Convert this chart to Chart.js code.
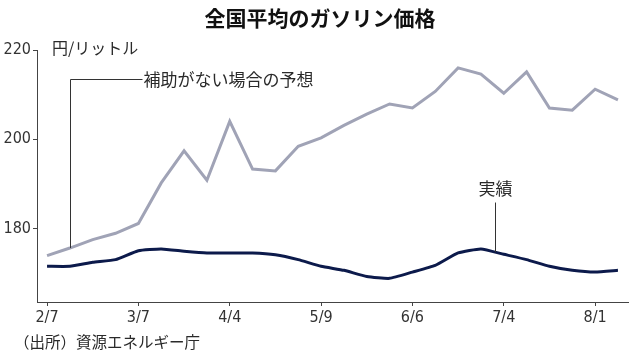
<!DOCTYPE html>
<html><head><meta charset="utf-8">
<script src="https://cdn.jsdelivr.net/npm/chart.js@4/dist/chart.umd.min.js"></script>
<style>
html,body{margin:0;padding:0;background:#fff;}
#wrap{position:relative;width:638px;height:357px;overflow:hidden;}
canvas{position:absolute;left:0;top:0;}
.t{position:absolute;white-space:nowrap;font-family:'Noto Sans CJK JP','Noto Sans',sans-serif;color:#2a2a2a;}
#title{left:0;width:640px;text-align:center;top:4px;font-size:21px;line-height:26px;font-weight:bold;color:#111;}
#unit{left:52px;top:37px;font-size:16px;line-height:20px;}
#src{left:14px;top:331px;font-size:15.5px;line-height:20px;}
</style></head>
<body><div id="wrap">
<canvas id="c" width="638" height="357"></canvas>
<div class="t" id="title">全国平均のガソリン価格</div>
<div class="t" id="unit">円/リットル</div>
<div class="t" id="src">（出所）資源エネルギー庁</div>
</div>
<script>
const categories = ['2/7','2/14','2/21','2/28','3/7','3/14','3/22','3/28','4/4','4/11','4/18','4/25','5/9','5/16','5/23','5/30','6/6','6/13','6/20','6/27','7/4','7/11','7/19','7/25','8/1','8/8'];
const forecast = [173.9,175.6,177.5,178.9,181.1,190.2,197.4,190.8,204.0,193.3,192.9,198.4,200.3,203.1,205.6,207.9,207.0,210.7,216.0,214.6,210.3,215.1,207.0,206.5,211.2,208.8];
const actual = [171.5,171.5,172.4,173.0,175.0,175.4,174.9,174.5,174.5,174.5,174.1,173.0,171.5,170.6,169.2,168.8,170.2,171.7,174.5,175.4,174.2,173.0,171.5,170.6,170.2,170.6];
const yTicks = [180,200,220];
const xTickIdx = [0,4,8,12,16,20,24];
const forecastLabel = '補助がない場合の予想';
const actualLabel = '実績';

const tickFont = {family:"'Liberation Sans Narrow','DejaVu Sans Condensed','Roboto Condensed',sans-serif", size:16};

const annot = {
  id:'annot',
  afterDatasetsDraw(chart){
    const ctx = chart.ctx, xs = chart.scales.x, ys = chart.scales.y;
    ctx.save();
    ctx.strokeStyle = '#333'; ctx.lineWidth = 1;
    const fx = Math.round(xs.getPixelForValue(1)) + 0.5;
    const fyTop = Math.round(ys.getPixelForValue(213.5)) + 0.5;
    const fyBot = ys.getPixelForValue(forecast[1]);
    ctx.beginPath();
    ctx.moveTo(fx, fyBot); ctx.lineTo(fx, fyTop); ctx.lineTo(fx + 72, fyTop);
    ctx.stroke();
    ctx.fillStyle = '#2a2a2a';
    ctx.font = "17px 'Noto Sans CJK JP', sans-serif";
    ctx.textBaseline = 'middle'; ctx.textAlign = 'left';
    ctx.fillText(forecastLabel, fx + 73, fyTop);
    const pos = 19.6;
    const i0 = Math.floor(pos), f = pos - i0;
    const ax = Math.round(xs.getPixelForValue(pos)) + 0.5;
    const ayBot = ys.getPixelForValue(actual[i0] + (actual[i0+1]-actual[i0])*f);
    const ayTop = ys.getPixelForValue(185.8);
    ctx.beginPath(); ctx.moveTo(ax, ayTop); ctx.lineTo(ax, ayBot); ctx.stroke();
    ctx.textAlign = 'center';
    ctx.fillText(actualLabel, ax, ys.getPixelForValue(189));
    ctx.restore();
  }
};

new Chart(document.getElementById('c'), {
  type:'line',
  data:{
    datasets:[
      {label:forecastLabel, data:forecast.map((v,i)=>({x:i,y:v})), borderColor:'#a0a3b6', borderWidth:3, pointRadius:0, tension:0},
      {label:actualLabel, data:actual.map((v,i)=>({x:i,y:v})), borderColor:'#0c1a4b', borderWidth:3, pointRadius:0, tension:0.15}
    ]
  },
  options:{
    responsive:false, animation:false, devicePixelRatio:1,
    layout:{padding:{top:50,right:10,bottom:0,left:0}},
    plugins:{legend:{display:false}, tooltip:{enabled:false}, title:{display:false}},
    scales:{
      x:{type:'linear', min:-0.44, max:25.44,
        afterBuildTicks(s){ s.ticks = xTickIdx.map(v=>({value:v})); },
        afterFit(s){ s.height = 55; },
        grid:{drawOnChartArea:false, drawTicks:true, tickLength:4, color:'#444'},
        border:{color:'#444', width:1},
        ticks:{font:tickFont, color:'#333', padding:2, maxRotation:0, autoSkip:false,
          callback:(v)=>categories[v]}
      },
      y:{min:163.5, max:220,
        afterBuildTicks(s){ s.ticks = yTicks.map(v=>({value:v})); },
        afterFit(s){ s.width = 37; },
        grid:{drawOnChartArea:false, drawTicks:true, tickLength:4, color:'#444'},
        border:{color:'#444', width:1},
        ticks:{font:tickFont, color:'#333', padding:2}
      }
    }
  },
  plugins:[annot]
});
</script>
</body></html>
